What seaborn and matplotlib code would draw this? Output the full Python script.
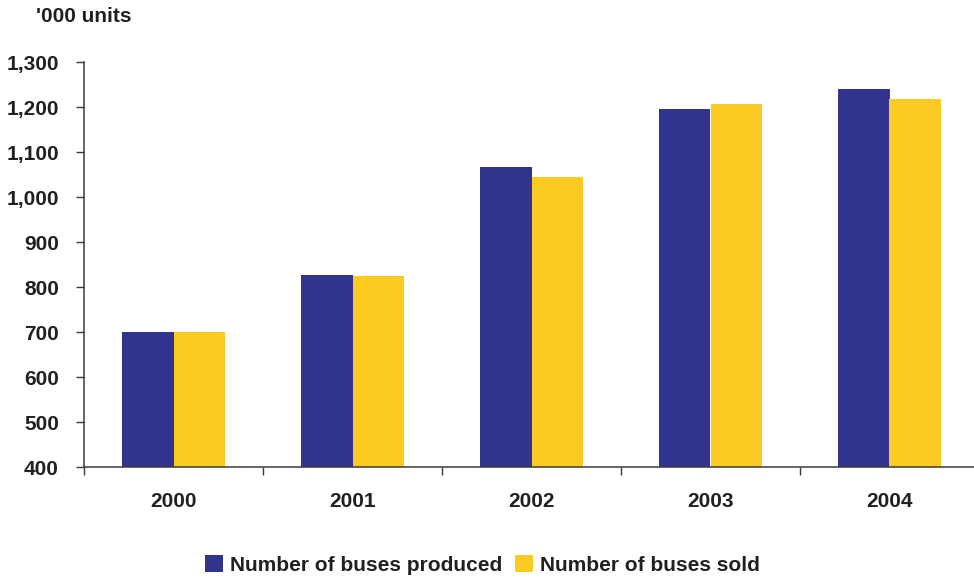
import matplotlib
matplotlib.use("Agg")
import matplotlib.pyplot as plt
from matplotlib.ticker import FuncFormatter, FixedLocator
import seaborn as sns
import pandas as pd

years = ["2000", "2001", "2002", "2003", "2004"]
produced = [701, 827, 1067, 1196, 1241]
sold = [701, 825, 1045, 1207, 1218]
series_names = ["Number of buses produced", "Number of buses sold"]
colors = ["#31348F", "#FBCB24"]

df = pd.DataFrame({
    "year": years * 2,
    "value": produced + sold,
    "series": [series_names[0]] * len(years) + [series_names[1]] * len(years),
})

sns.set_theme(style="white")
plt.rcParams["font.family"] = ["Liberation Sans", "DejaVu Sans"]
plt.rcParams["font.weight"] = "bold"

text_color = "#231F20"
fig = plt.figure(figsize=(9.74, 5.78), dpi=100)
ax = fig.add_axes([84 / 974, 1 - 467.3 / 578, (979 - 84) / 974, (467.3 - 62.3) / 578])

sns.barplot(data=df, x="year", y="value", hue="series", palette=colors,
            width=0.58, gap=0, saturation=1, linewidth=0, edgecolor="none",
            ax=ax, legend=True)

ax.set_ylim(400, 1300)
ax.set_xlim(-0.5, 4.5)
ax.set_yticks(range(400, 1301, 100))
ax.yaxis.set_major_formatter(FuncFormatter(lambda v, p: f"{int(v):,}"))
ax.set_xlabel("")
ax.set_ylabel("")

for side in ["top", "right"]:
    ax.spines[side].set_visible(False)
for side in ["left", "bottom"]:
    ax.spines[side].set_color("#3a3a3a")
    ax.spines[side].set_linewidth(1.1)

ax.tick_params(axis="y", which="major", direction="out", length=6, width=1,
               color="#3a3a3a", pad=12, labelsize=15, labelcolor=text_color, left=True)
ax.tick_params(axis="x", which="major", length=0, pad=18, labelsize=15,
               labelcolor=text_color)
ax.xaxis.set_minor_locator(FixedLocator([-0.5, 0.5, 1.5, 2.5, 3.5, 4.5]))
ax.tick_params(axis="x", which="minor", direction="out", length=6, width=1,
               color="#3a3a3a", bottom=True)
for lbl in ax.get_xticklabels() + ax.get_yticklabels():
    lbl.set_fontweight("bold")

fig.text(36 / 974, 1 - 17 / 578, "'000 units", ha="left", va="center",
         fontsize=15, fontweight="bold", color=text_color)

handles, labels = ax.get_legend_handles_labels()
ax.legend_.remove()
fig.legend(handles, labels, loc="center", bbox_to_anchor=(0.4955, 1 - 565 / 578),
           ncol=2, frameon=False, handlelength=0.85, handleheight=0.85,
           handletextpad=0.35, columnspacing=0.6,
           prop={"size": 15, "weight": "bold"}, labelcolor=text_color)

fig.savefig("out.png", dpi=100)
